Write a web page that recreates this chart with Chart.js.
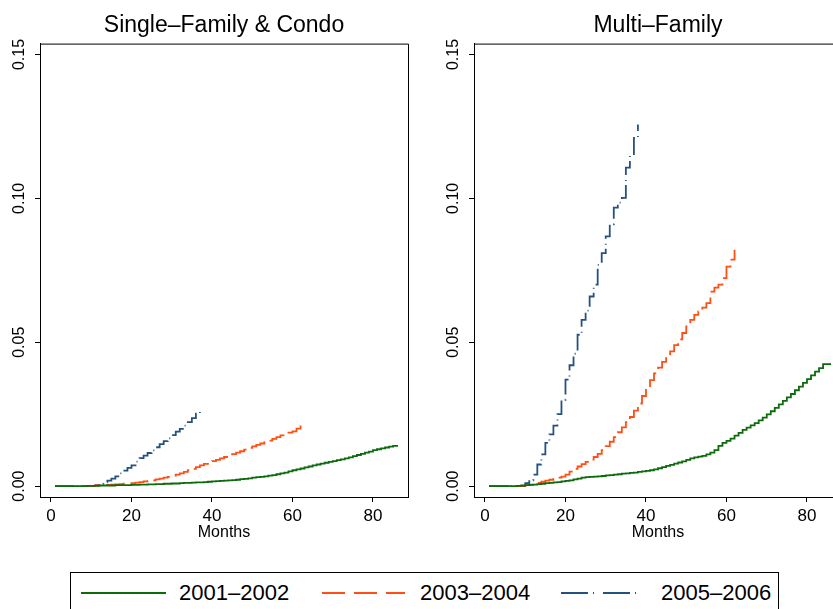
<!DOCTYPE html>
<html>
<head>
<meta charset="utf-8">
<script src="https://cdn.jsdelivr.net/npm/chart.js@4.4.1/dist/chart.umd.min.js"></script>
<style>
    html, body { margin: 0; padding: 0; background: #fff; }
    body { width: 833px; height: 609px; overflow: hidden; position: relative;
           font-family: "Liberation Sans", Arial, Helvetica, sans-serif; }
    .panel { position: absolute; top: 0; }
    #legend { position: absolute; left: 70px; top: 572px; width: 709px; height: 60px;
              border: 1px solid #000; box-sizing: border-box; }
    #legend svg { position: absolute; left: 0; top: 0; }
    #legend span { position: absolute; top: 8px; font-size: 22px; line-height: 24px; color: #000; }
</style>
</head>
<body>
<canvas id="chart-sfc" class="panel" width="416" height="542" style="left:0px"></canvas>
<canvas id="chart-mf" class="panel" width="416" height="542" style="left:434px"></canvas>
<div id="legend">
    <svg width="709" height="40">
        <line x1="10" y1="20" x2="95" y2="20" stroke="#0d6b0d" stroke-width="2"></line>
        <line x1="251" y1="20" x2="334" y2="20" stroke="#ff4f14" stroke-width="2" stroke-dasharray="23 9"></line>
        <line x1="490" y1="20" x2="573" y2="20" stroke="#24527f" stroke-width="2" stroke-dasharray="27 5 1 9"></line>
    </svg>
    <span style="left:108px">2001–2002</span>
    <span style="left:349px">2003–2004</span>
    <span style="left:590px">2005–2006</span>
</div>
<script>
'use strict';

// months since origination (x categories)
var months = Array.from({ length: 86 }, function (_, i) { return i + 1; });
var xTicks = [0, 20, 40, 60, 80];
var yTicks = [0, 0.05, 0.10, 0.15];
var seriesNames = ['2001–2002', '2003–2004', '2005–2006'];

// Single-Family & Condo
var sfc2001 = [
    0, 0, 0, 0, 0, 0, 0, 0, 0.0001, 0.0001,
    0.0001, 0.0002, 0.0002, 0.0002, 0.0002, 0.0003, 0.0003, 0.0003, 0.0003, 0.0004,
    0.0004, 0.0005, 0.0005, 0.0006, 0.0006, 0.0007, 0.0007, 0.0008, 0.0008, 0.0009,
    0.0009, 0.0010, 0.0011, 0.0011, 0.0012, 0.0013, 0.0013, 0.0014, 0.0015, 0.0016,
    0.0017, 0.0018, 0.0019, 0.0020, 0.0021, 0.0022, 0.0024, 0.0025, 0.0027, 0.0029,
    0.0031, 0.0032, 0.0034, 0.0036, 0.0038, 0.0041, 0.0044, 0.0047, 0.0051, 0.0055,
    0.0058, 0.0061, 0.0065, 0.0068, 0.0072, 0.0075, 0.0078, 0.0081, 0.0084, 0.0087,
    0.0090, 0.0093, 0.0096, 0.0100, 0.0104, 0.0108, 0.0112, 0.0116, 0.0120, 0.0125,
    0.0128, 0.0131, 0.0134, 0.0137, 0.0140, 0.0143
];
var sfc2003 = [
    0, 0, 0, 0, 0, 0, 0, 0, 0, 0.0001,
    0.0002, 0.0002, 0.0003, 0.0004, 0.0005, 0.0006, 0.0007, 0.0008, 0.0009, 0.0010,
    0.0012, 0.0014, 0.0016, 0.0018, 0.0020, 0.0023, 0.0026, 0.0029, 0.0032, 0.0036,
    0.0040, 0.0044, 0.0049, 0.0055, 0.0060, 0.0066, 0.0072, 0.0077, 0.0082, 0.0087,
    0.0091, 0.0096, 0.0101, 0.0106, 0.0111, 0.0116, 0.0121, 0.0127, 0.0133, 0.0138,
    0.0143, 0.0148, 0.0153, 0.0158, 0.0164, 0.0170, 0.0176, 0.0182, 0.0186, 0.0190,
    0.0200, 0.0212
];
var sfc2005 = [
    0, 0, 0, 0, 0, 0, 0, 0, 0, 0,
    0.0003, 0.0008, 0.0013, 0.0019, 0.0026, 0.0034, 0.0044, 0.0054, 0.0063, 0.0072,
    0.0085, 0.0097, 0.0106, 0.0115, 0.0124, 0.0135, 0.0146, 0.0156, 0.0166, 0.0177,
    0.0189, 0.0199, 0.0210, 0.0222, 0.0236, 0.0252, 0.0272
];

// Multi-Family
var mf2001 = [
    0, 0, 0, 0, 0, 0, 0, 0.0001, 0.0002, 0.0003,
    0.0004, 0.0005, 0.0007, 0.0008, 0.0010, 0.0011, 0.0013, 0.0014, 0.0016, 0.0018,
    0.0020, 0.0023, 0.0026, 0.0029, 0.0031, 0.0032, 0.0033, 0.0034, 0.0035, 0.0037,
    0.0038, 0.0040, 0.0041, 0.0043, 0.0044, 0.0046, 0.0047, 0.0049, 0.0051, 0.0053,
    0.0055, 0.0058, 0.0062, 0.0066, 0.0070, 0.0074, 0.0078, 0.0082, 0.0086, 0.0091,
    0.0096, 0.0100, 0.0102, 0.0105, 0.0110, 0.0116, 0.0125, 0.0140, 0.0150, 0.0157,
    0.0165, 0.0175, 0.0185, 0.0195, 0.0203, 0.0211, 0.0219, 0.0228, 0.0238, 0.0249,
    0.0260, 0.0272, 0.0284, 0.0296, 0.0308, 0.0320, 0.0333, 0.0346, 0.0359, 0.0372,
    0.0385, 0.0398, 0.0410, 0.0424, 0.0424, 0.0424
];
var mf2003 = [
    0, 0, 0, 0, 0, 0, 0, 0, 0.0001, 0.0003,
    0.0005, 0.0008, 0.0011, 0.0015, 0.0019, 0.0022, 0.0025, 0.0029, 0.0033, 0.0040,
    0.0050, 0.0060, 0.0068, 0.0076, 0.0084, 0.0092, 0.0101, 0.0112, 0.0125, 0.0139,
    0.0154, 0.0170, 0.0187, 0.0204, 0.0222, 0.0240, 0.0262, 0.0287, 0.0313, 0.0340,
    0.0368, 0.0392, 0.0412, 0.0432, 0.0450, 0.0468, 0.0490, 0.0510, 0.0532, 0.0555,
    0.0578, 0.0595, 0.0607, 0.0620, 0.0636, 0.0676, 0.0690, 0.0700, 0.0723, 0.0763,
    0.0787, 0.0821
];
var mf2005 = [
    0, 0, 0, 0, 0, 0, 0, 0, 0, 0.0010,
    0.0020, 0.0040, 0.0075, 0.0110, 0.0150, 0.0180, 0.0210, 0.0250, 0.0300, 0.0370,
    0.0420, 0.0460, 0.0526, 0.0578, 0.0610, 0.0659, 0.0700, 0.0769, 0.0810, 0.0868,
    0.0910, 0.0968, 0.0985, 0.1002, 0.1107, 0.1150, 0.1210, 0.1257
];

var fontFamily = '"Liberation Sans", Arial, Helvetica, sans-serif';
Chart.defaults.font.family = fontFamily;
Chart.defaults.color = '#000';

// top + right edges of the plot region
var framePlugin = {
    id: 'frame',
    afterDraw: function (chart) {
        var a = chart.chartArea;
        var ctx = chart.ctx;
        ctx.save();
        ctx.strokeStyle = '#000';
        ctx.lineWidth = 1;
        ctx.beginPath();
        ctx.moveTo(a.left, a.top + 0.5);
        ctx.lineTo(a.right + 0.5, a.top + 0.5);
        ctx.lineTo(a.right + 0.5, a.bottom);
        ctx.stroke();
        ctx.restore();
    }
};

function makeDatasets(d1, d2, d3) {
    return [
        {
            label: seriesNames[0],
            data: d1,
            borderColor: '#0d6b0d',
            borderWidth: 1.8,
            stepped: true,
            pointRadius: 0,
            fill: false,
        },
        {
            label: seriesNames[1],
            data: d2,
            borderColor: '#ff4f14',
            borderWidth: 1.8,
            borderDash: [20, 6],
            stepped: true,
            pointRadius: 0,
            fill: false,
        },
        {
            label: seriesNames[2],
            data: d3,
            borderColor: '#24527f',
            borderWidth: 1.8,
            borderDash: [18, 4, 1, 5],
            stepped: true,
            pointRadius: 0,
            fill: false,
        },
    ];
}

function makeChart(canvasId, title, datasets) {
    return new Chart(document.getElementById(canvasId), {
        type: 'line',
        data: {
            labels: months,
            datasets: datasets,
        },
        options: {
            responsive: false,
            animation: false,
            layout: { padding: { left: 0, right: 8, top: 0, bottom: 0 } },
            scales: {
                x: {
                    type: 'linear',
                    min: -2.73,
                    max: 88.7,
                    afterBuildTicks: function (s) {
                        s.ticks = xTicks.map(function (v) { return { value: v }; });
                    },
                    afterFit: function (s) { s.height = 45; },
                    ticks: {
                        font: { size: 17 },
                        padding: 4,
                        maxRotation: 0,
                        callback: function (v) { return String(v); },
                    },
                    grid: {
                        display: true,
                        drawOnChartArea: false,
                        drawTicks: true,
                        tickLength: 5,
                        color: '#000',
                    },
                    border: { display: true, color: '#000', width: 1 },
                    title: {
                        display: true,
                        text: 'Months',
                        font: { size: 16 },
                        padding: { top: 0, bottom: 0 },
                    },
                },
                y: {
                    type: 'linear',
                    min: -0.0038,
                    max: 0.1538,
                    afterBuildTicks: function (s) {
                        s.ticks = yTicks.map(function (v) { return { value: v }; });
                    },
                    afterFit: function (s) { s.width = 40; },
                    ticks: {
                        font: { size: 16 },
                        minRotation: 90,
                        maxRotation: 90,
                        crossAlign: 'center',
                        padding: 0,
                        callback: function (v) { return v.toFixed(2); },
                    },
                    grid: {
                        display: true,
                        drawOnChartArea: false,
                        drawTicks: true,
                        tickLength: 5,
                        color: '#000',
                    },
                    border: { display: true, color: '#000', width: 1 },
                },
            },
            plugins: {
                legend: { display: false },
                tooltip: { enabled: false },
                title: {
                    display: true,
                    text: title,
                    fullSize: false,
                    font: { size: 23, weight: 'normal' },
                    color: '#000',
                    padding: { top: 12, bottom: 4 },
                },
            },
        },
        plugins: [framePlugin],
    });
}

makeChart('chart-sfc', 'Single–Family & Condo', makeDatasets(sfc2001, sfc2003, sfc2005));
makeChart('chart-mf', 'Multi–Family', makeDatasets(mf2001, mf2003, mf2005));
</script>
</body>
</html>
